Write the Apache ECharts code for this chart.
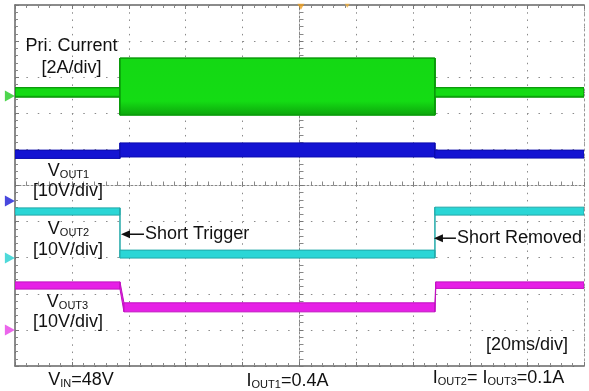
<!DOCTYPE html>
<html>
<head>
<meta charset="utf-8">
<script src="https://cdn.jsdelivr.net/npm/echarts@6/dist/echarts.min.js"></script>
<style>
html,body{margin:0;padding:0;background:#fff;}
#c{width:589px;height:391px;}
</style>
</head>
<body>
<div id="c"></div>
<script>
// time in ms relative to screen centre (20 ms/div), vertical in screen divisions
const tSteps   = [-100, -63.1, -63.1, 47.6, 47.6, 100];
const tStepsM  = [-100, -63.1, -61.7, 47.6, 47.9, 100];

const priHi  = [2.71, 2.71, 3.53, 3.53, 2.71, 2.71];
const priLo  = [2.45, 2.45, 1.95, 1.95, 2.45, 2.45];
const v1Hi   = [0.98, 0.98, 1.18, 1.18, 0.98, 0.98];
const v1Lo   = [0.75, 0.75, 0.79, 0.79, 0.76, 0.76];
const v2Hi   = [-0.62, -0.62, -1.79, -1.79, -0.60, -0.60];
const v2Lo   = [-0.82, -0.82, -2.01, -2.01, -0.82, -0.82];
const v3Hi   = [-2.67, -2.67, -3.25, -3.25, -2.67, -2.67];
const v3Lo   = [-2.87, -2.87, -3.50, -3.50, -2.85, -2.85];

const chLevels = [2.48, -0.43, -2.01, -4.0];   // channel ground markers
const chColors = ['#22cc22', '#1a1ad6', '#22d0d0', '#e640e6'];
const trigT = [0.5, 16.8];

const FONT = 'Arial, "Liberation Sans", sans-serif';

function band(t, hi, lo, fill, edge) {
  const segs = [];
  for (let i = 0; i < t.length - 1; i++) {
    segs.push([t[i], t[i + 1], hi[i], lo[i], hi[i + 1], lo[i + 1]]);
  }
  return {
    type: 'custom', silent: true, clip: true, z: 3,
    data: segs,
    encode: { x: [0, 1], y: [2, 3, 4, 5] },
    renderItem: function (params, api) {
      const a = api.coord([api.value(0), api.value(2)]);
      const b = api.coord([api.value(1), api.value(4)]);
      const c = api.coord([api.value(1), api.value(5)]);
      const d = api.coord([api.value(0), api.value(3)]);
      return { type: 'polygon', shape: { points: [a, b, c, d] },
        style: { fill: fill, stroke: edge, lineWidth: 1 } };
    }
  };
}

const greenFill = new echarts.graphic.LinearGradient(0, 0, 0, 1, [
  { offset: 0, color: '#14d814' }, { offset: 0.75, color: '#14dc14' }, { offset: 1, color: '#0ca40c' }
]);

const chart = echarts.init(document.getElementById('c'), null, { renderer: 'canvas' });

const gridDotV = [1.5, 5.72];
const gridDotH = [1.5, 9.88];

const option = {
  animation: false,
  backgroundColor: '#ffffff',
  grid: { left: 15, right: 5, top: 5, bottom: 25, containLabel: false, outerBoundsMode: 'none' },
  xAxis: [
    { type: 'value', min: -100, max: 100, interval: 20, position: 'bottom',
      axisLine: { show: true, onZero: false, lineStyle: { color: '#666', width: 1.5 } },
      axisTick: { show: true, inside: true, length: 4, lineStyle: { color: '#777' } },
      minorTick: { show: true, splitNumber: 5, length: 3, lineStyle: { color: '#888' } },
      axisLabel: { show: false },
      splitLine: { show: true, lineStyle: { color: '#8a8a8a', width: 1, type: gridDotV } } },
    { type: 'value', min: -100, max: 100, interval: 20, position: 'top',
      axisLine: { show: true, onZero: false, lineStyle: { color: '#666', width: 1.5 } },
      axisTick: { show: true, inside: true, length: 4, lineStyle: { color: '#777' } },
      minorTick: { show: true, splitNumber: 5, length: 3, lineStyle: { color: '#888' } },
      axisLabel: { show: false }, splitLine: { show: false } },
    { type: 'value', min: -100, max: 100, interval: 20, position: 'bottom',
      axisLine: { show: true, onZero: true, onZeroAxisIndex: 0, lineStyle: { color: '#888', width: 1, type: [2, 2] } },
      axisTick: { show: true, inside: true, length: 4, lineStyle: { color: '#777' } },
      minorTick: { show: true, splitNumber: 5, length: 4, lineStyle: { color: '#888' } },
      axisLabel: { show: false }, splitLine: { show: false } }
  ],
  yAxis: [
    { type: 'value', min: -5, max: 5, interval: 1, position: 'left',
      axisLine: { show: true, onZero: false, lineStyle: { color: '#666', width: 1.5 } },
      axisTick: { show: true, inside: true, length: 4, lineStyle: { color: '#777' } },
      minorTick: { show: true, splitNumber: 5, length: 3, lineStyle: { color: '#888' } },
      axisLabel: { show: false },
      splitLine: { show: true, lineStyle: { color: '#8a8a8a', width: 1, type: gridDotH } } },
    { type: 'value', min: -5, max: 5, interval: 1, position: 'right',
      axisLine: { show: true, onZero: false, lineStyle: { color: '#999', width: 1, type: [2, 3] } },
      axisTick: { show: false }, axisLabel: { show: false }, splitLine: { show: false } },
    { type: 'value', min: -5, max: 5, interval: 1, position: 'left',
      axisLine: { show: true, onZero: true, onZeroAxisIndex: 0, lineStyle: { color: '#888', width: 1, type: [2, 2] } },
      axisTick: { show: true, inside: true, length: 4, lineStyle: { color: '#777' } },
      minorTick: { show: true, splitNumber: 5, length: 4, lineStyle: { color: '#888' } },
      axisLabel: { show: false }, splitLine: { show: false } }
  ],
  series: [
    band(tSteps, priHi, priLo, greenFill, '#0a9a0a'),
    band(tSteps, v1Hi, v1Lo, '#1414d2', '#0c0cb0'),
    band(tSteps, v2Hi, v2Lo, '#2ad6d6', '#20a8a8'),
    band(tStepsM, v3Hi, v3Lo, '#e620e6', '#c010c0'),
    { type: 'scatter', clip: false, silent: true, z: 4,
      symbol: 'path://M0,0L10,5L0,10Z', symbolSize: [10, 11],
      data: chLevels.map((v, i) => ({ value: [-101.8, v], itemStyle: { color: chColors[i] } })) },
    { type: 'scatter', clip: false, silent: true, z: 4,
      symbol: 'path://M0,0L10,0L5,8Z',
      data: [
        { value: [trigT[0], 4.95], symbolSize: [7, 6], itemStyle: { color: '#f0a020' } },
        { value: [trigT[1], 4.98], symbolSize: [5, 4], itemStyle: { color: '#f0b040' } }
      ] }
  ]
};
chart.setOption(option);

// annotations
const base = { fontFamily: FONT, fontSize: 18, fill: '#111' };
const rich = {
  v: { fontFamily: FONT, fontSize: 18, lineHeight: 20, verticalAlign: 'bottom', color: '#111' },
  s: { fontFamily: FONT, fontSize: 11, lineHeight: 14, verticalAlign: 'bottom', color: '#111' }
};
function txt(x, y, text, align) {
  return { type: 'text', x: x, y: y, silent: true, z: 100,
    style: Object.assign({}, base, { text: text, align: align || 'center', verticalAlign: 'middle', rich: rich }) };
}
function arrow(x, y, len) {
  return { type: 'group', x: x, y: y, silent: true, z: 100, children: [
    { type: 'polygon', z: 100, shape: { points: [[0, 0], [9, -4], [9, 4]] }, style: { fill: '#111' } },
    { type: 'line', z: 100, shape: { x1: 8, y1: 0, x2: len, y2: 0 }, style: { stroke: '#111', lineWidth: 1.5 } }
  ] };
}
const tipT = chart.convertToPixel({ gridIndex: 0 }, [tSteps[1], -1.35]);
const tipR = chart.convertToPixel({ gridIndex: 0 }, [tSteps[3], -1.46]);

chart.setOption({ graphic: [
  txt(71.5, 46, 'Pri. Current'),
  txt(71.5, 68, '[2A/div]'),
  txt(68.5, 170, '{v|V}{s|OUT1}'),
  txt(68, 191, '[10V/div]'),
  txt(68.5, 228, '{v|V}{s|OUT2}'),
  txt(68, 250, '[10V/div]'),
  txt(67.5, 301, '{v|V}{s|OUT3}'),
  txt(68, 322, '[10V/div]'),
  txt(527, 345, '[20ms/div]'),
  txt(81, 379, '{v|V}{s|IN}{v|=48V}'),
  txt(287.5, 380, '{v|I}{s|OUT1}{v|=0.4A}'),
  txt(498.5, 377, '{v|I}{s|OUT2}{v|= I}{s|OUT3}{v|=0.1A}'),
  arrow(tipT[0] + 1, tipT[1], 23),
  txt(tipT[0] + 25, tipT[1], 'Short Trigger', 'left'),
  arrow(tipR[0] - 1, tipR[1], 22),
  txt(tipR[0] + 22, tipR[1], 'Short Removed', 'left')
] });
</script>
</body>
</html>
